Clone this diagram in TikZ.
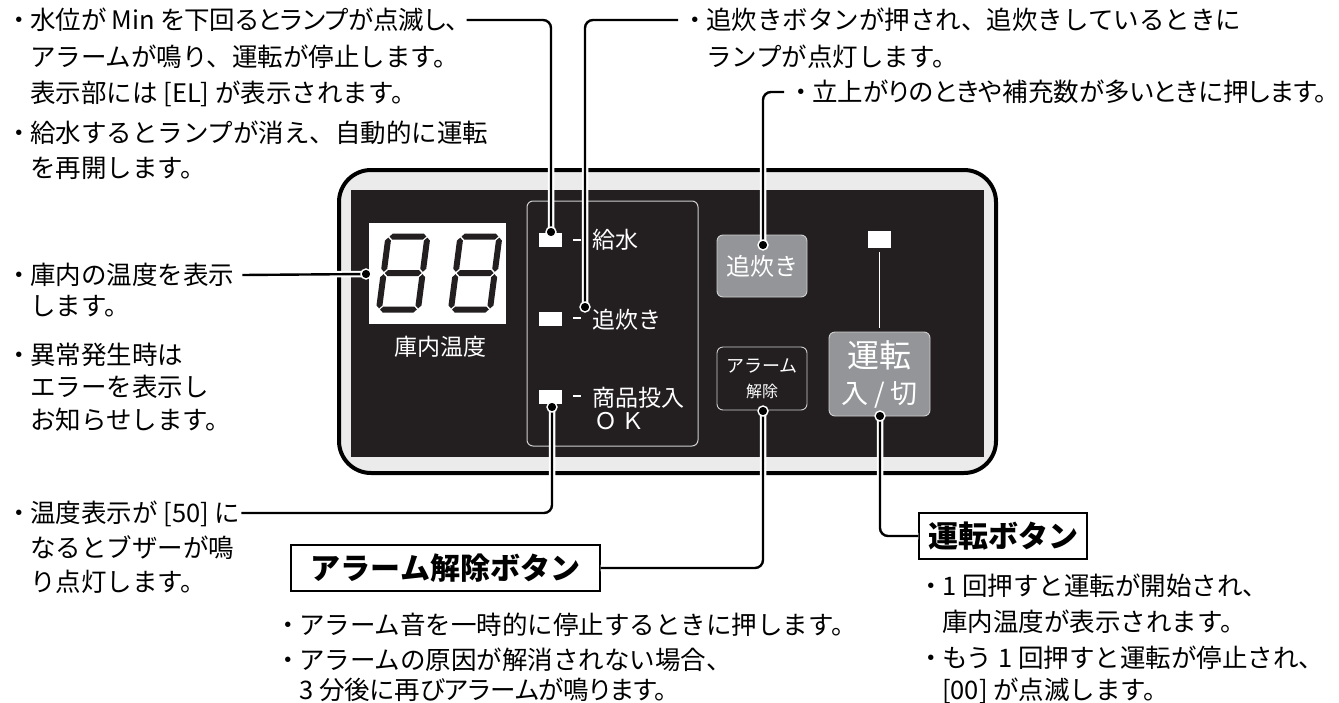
\documentclass[tikz,border=0pt]{standalone}
\usepackage{fontspec}
\setmainfont{Noto Sans CJK JP}
\newfontfamily\palfont{Noto Sans CJK JP}[RawFeature=+palt]
\usetikzlibrary{calc}
\definecolor{panelbk}{HTML}{231F20}
\definecolor{rimgrey}{HTML}{EBEBEB}
\definecolor{btngrey}{HTML}{939598}
\definecolor{edgegrey}{HTML}{D0D0D0}
\newcommand\bul{\makebox[22pt][c]{・}}
\newcommand\hsg[3]{\fill (#1,#3) -- ++(3,-3) -- (#2-3,#3-3) -- (#2,#3) -- (#2-3,#3+3) -- (#1+3,#3+3) -- cycle;}
\newcommand\vsg[3]{\fill (#3,#1) -- ++(3,3) -- (#3+3,#2-3) -- (#3,#2) -- (#3-3,#2-3) -- (#3-3,#1+3) -- cycle;}
\newcommand\segdigit[1]{%
  \begin{scope}[shift={(#1)}, xslant=0.13, fill=panelbk]
    \hsg{4.6}{41.4}{-76.5}\hsg{4.6}{41.4}{-40}\hsg{4.6}{41.4}{-3.5}
    \vsg{-75.4}{-41.2}{3.5}\vsg{-38.8}{-4.6}{3.5}
    \vsg{-75.4}{-41.2}{42.5}\vsg{-38.8}{-4.6}{42.5}
  \end{scope}}
\tikzset{
  body/.style={anchor=west, inner sep=0pt, text height=22pt, text depth=3pt, font=\fontsize{25.5}{30}\selectfont},
  paneltxt/.style={inner sep=0pt, text=white, font=\fontsize{23}{27}\selectfont},
  lead/.style={draw=black, line width=2.4pt, rounded corners=8pt, preaction={draw=white, line width=6.5pt}},
  enddot/.style={circle, fill=black, draw=white, line width=1.4pt, minimum size=10pt, inner sep=0pt},
  lamp/.style={fill=white, draw=none, minimum width=23pt, minimum height=14pt, inner sep=0pt},
  titlebox/.style={draw=black, line width=1.3pt, inner sep=0pt, font=\bfseries\fontsize{30}{34}\selectfont},
}
\begin{document}
\begin{tikzpicture}[x=1pt, y=-1pt]
\useasboundingbox (0,0) rectangle (1339,702);
\fill[white] (0,0) rectangle (1339,702);
% ---------- panel ----------
\draw[line width=4pt, fill=rimgrey, rounded corners=32pt] (339,170) rectangle (996,473);
\fill[panelbk] (351,190) rectangle (984,457);
% display
\node[fill=white, minimum width=137pt, minimum height=101pt, inner sep=0pt] (disp) at (437.5,273.5) {};
\segdigit{375,313}
\segdigit{447,313}
\node[paneltxt] (kt) at (440,347) {庫内温度};
% lamp group
\draw[edgegrey, line width=1pt, rounded corners=6pt] (527,201) rectangle (698,446);
\node[lamp] (lpA) at (550.5,240) {};
\node[lamp] (lpB) at (550.5,319) {};
\node[lamp] (lpC) at (550.5,396.5) {};
\draw[white, line width=1.6pt] (573,240) -- (581,240) (573,318) -- (581,318) (573,396) -- (581,396);
\node[paneltxt, anchor=west] (kyu) at (592,240) {給水};
\node[paneltxt, anchor=west] (oi) at (592,320) {追炊き};
\node[paneltxt, anchor=west] (shohin) at (592,398) {商品投入};
\node[paneltxt, anchor=west] (ok) at (594,421) {Ｏ\,Ｋ};
% buttons
\node[draw=edgegrey, fill=btngrey, line width=0.9pt, rounded corners=6pt, minimum width=90pt, minimum height=62pt, inner sep=0pt, text=white, font=\fontsize{24}{28}\selectfont] (btnOi) at (762,266) {追炊き};
\node[draw=edgegrey, fill=panelbk, line width=0.9pt, rounded corners=6pt, minimum width=90pt, minimum height=63pt, inner sep=0pt, text=white, align=center, font=\fontsize{18}{25}\selectfont] (btnAl) at (762,378.5) {アラーム\\{\fontsize{16}{18}\selectfont 解除}};
\node[draw=edgegrey, fill=btngrey, line width=0.9pt, rounded corners=6pt, minimum width=101pt, minimum height=84pt, inner sep=0pt, text=white, align=center, font=\fontsize{32}{36}\selectfont] (btnRun) at (879.5,374) {運転\\{\fontsize{27}{30}\selectfont 入 / 切}};
\node[fill=white, minimum width=23pt, minimum height=17pt, inner sep=0pt] (runlamp) at (879.5,239.5) {};
\draw[white, line width=1.2pt] (runlamp.south) ++(0,4) -- ($(btnRun.north)+(0,-4)$);
% ---------- texts ----------
\node[body] (tl1) at (8,20) {\bul{\palfont 水位が Min を下回るとランプが点滅し、}};
\node[body] (tl2) at (30,57) {アラームが鳴り、運転が停止します。};
\node[body] (tl3) at (30,93) {表示部には [EL] が表示されます。};
\node[body] (tl4) at (8,133) {\bul 給水するとランプが消え、自動的に運転};
\node[body] (tl5) at (30,168) {を再開します。};
\node[body] (tr1) at (684,20) {\bul 追炊きボタンが押され、追炊きしているときに};
\node[body] (tr2) at (706,57) {ランプが点灯します。};
\node[body] (tr3) at (790,92) {\bul{\palfont 立上がりのときや補充数が多いときに押します。}};
\node[body] (l1) at (8,275) {\bul 庫内の温度を表示};
\node[body] (l2) at (30,306) {します。};
\node[body] (l3) at (8,355) {\bul 異常発生時は};
\node[body] (l4) at (30,387) {エラーを表示し};
\node[body] (l5) at (30,420) {お知らせします。};
\node[body] (b1) at (8,513) {\bul 温度表示が [50] に};
\node[body] (b2) at (30,548) {なるとブザーが鳴};
\node[body] (b3) at (30,582) {り点灯します。};
\node[titlebox, minimum width=309pt, minimum height=46pt] (albox) at (445.5,568) {アラーム解除ボタン};
\node[body] (a1) at (277,625) {\bul アラーム音を一時的に停止するときに押します。};
\node[body] (a2) at (277,660) {\bul アラームの原因が解消されない場合、};
\node[body] (a3) at (299,690) {{\palfont 3 分後に再びアラームが鳴ります。}};
\node[titlebox, minimum width=168pt, minimum height=46pt] (runbox) at (1003,536) {運転ボタン};
\node[body] (r1) at (920,586) {\bul 1 回押すと運転が開始され、};
\node[body] (r2) at (942,622) {庫内温度が表示されます。};
\node[body] (r3) at (920,658) {\bul もう 1 回押すと運転が停止され、};
\node[body] (r4) at (942,690) {[00] が点滅します。};
% ---------- leaders ----------
\coordinate (cA) at (551,232);
\coordinate (cB) at (585,307);
\coordinate (cOi) at (763,245);
\coordinate (cD) at (366,274);
\coordinate (cC) at (552,407);
\coordinate (cAl) at (763,411);
\coordinate (cRun) at (880,416);
\draw[lead] ($(tl1.east)+(8,0)$) -| (cA);
\draw[lead] ($(tr1.west)+(-6,0)$) -| (cB);
\draw[lead] ($(tr3.west)+(-6,0)$) -| (cOi);
\draw[lead] ($(l1.east)+(8,0)$) -- (cD);
\draw[lead] ($(b1.east)+(1,0)$) -| (cC);
\draw[lead] (albox.east) -| (cAl);
\draw[lead] (runbox.west) -| (cRun);
\foreach \c in {cA,cB,cOi,cD,cC,cAl,cRun} \node[enddot] at (\c) {};
\end{tikzpicture}
\end{document}
